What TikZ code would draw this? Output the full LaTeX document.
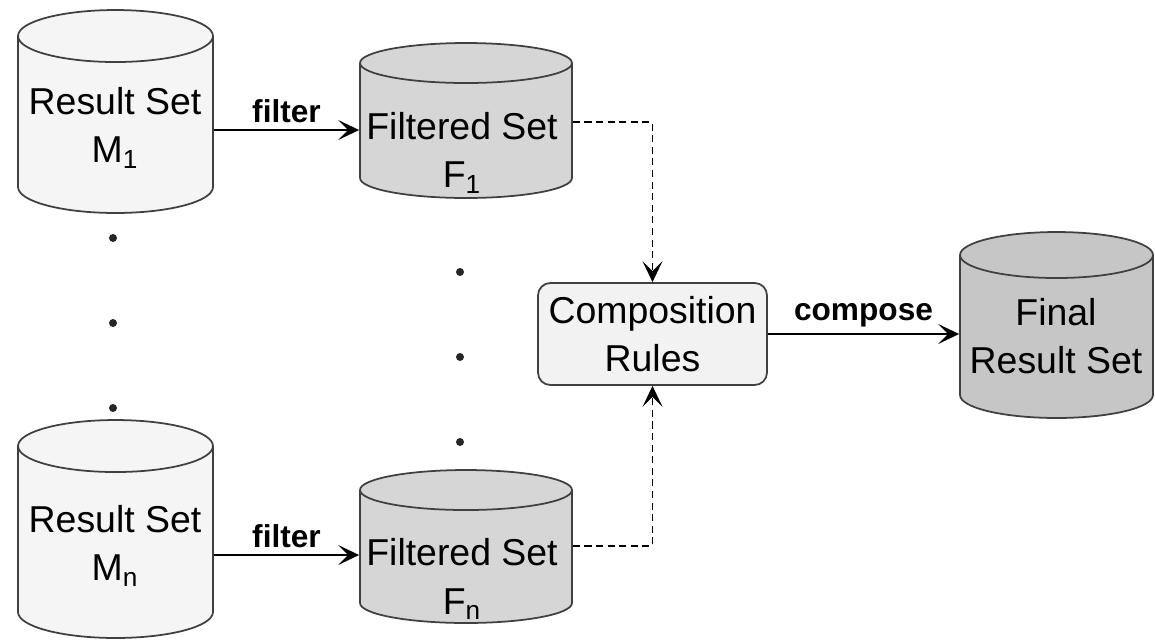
\documentclass[tikz,border=0pt]{standalone}
\usepackage{fontspec}
\setmainfont{Liberation Sans}
\usetikzlibrary{positioning, arrows.meta, shapes.geometric}

\begin{document}
\begin{tikzpicture}[
    x=0.02cm, y=-0.02cm,
    every node/.style={font=\fontsize{21.3}{27.5}\selectfont, align=center},
    dbase/.style={cylinder, shape border rotate=90, anchor=shape center, draw=black!75,
                  line width=1pt, inner sep=0.2cm},
    result/.style={dbase, fill=gray!8, minimum width=3.9cm, aspect=2.6},
    filtered/.style={dbase, fill=gray!32, minimum width=4.24cm, aspect=2},
    final/.style={dbase, fill=gray!45, minimum width=3.86cm, minimum height=3.72cm, aspect=2.3},
    dbtext/.style={inner sep=0pt},
    rules/.style={rectangle, draw=black!75, line width=1pt, rounded corners=7pt, fill=gray!10,
                  minimum width=4.58cm, minimum height=2.04cm},
    dot/.style={circle, fill=black!85, inner sep=0pt, minimum size=0.16cm},
    flow/.style={-{Stealth[length=0.42cm, width=0.4cm, inset=0.2cm]}, line width=1.1pt},
    link/.style={-{Stealth[length=0.42cm, width=0.4cm, inset=0.2cm]}, line width=1.1pt,
                 dash pattern=on 4pt off 2.6pt},
    lbl/.style={font=\fontsize{18}{20}\selectfont\bfseries}
]
\useasboundingbox (0,0) rectangle (1155,640);

% Nodes
\node[result, minimum height=4.06cm] (m1) at (115.5,111.5) {};
\node[result, minimum height=4.36cm] (mn) at (115.5,529) {};
\node[filtered, minimum height=3.1cm] (f1) at (466,120.5) {};
\node[filtered, minimum height=3.06cm] (fn) at (466,546.5) {};
\node[rules] (comp) at (652.5,334) {Composition\\Rules};
\node[final] (res) at (1056.5,325) {};

% Texts on the cylinders
\node[dbtext] (m1txt) at (115,128) {Result Set\\M\textsubscript{1}};
\node[dbtext] (mntxt) at (115,546) {Result Set\\M\textsubscript{n}};
\node[dbtext] (f1txt) at (462,153) {Filtered Set\\F\textsubscript{1}};
\node[dbtext] (fntxt) at (462,579) {Filtered Set\\F\textsubscript{n}};
\node[dbtext] (restxt) at (1056,336) {Final\\Result Set};

% Dots
\foreach \i/\y in {1/238, 2/323, 3/408}
    \node[dot] (ldot\i) at (113,\y) {};
\foreach \i/\y in {1/272, 2/357, 3/442}
    \node[dot] (mdot\i) at (460,\y) {};

% Edges
\draw[flow] (m1.east |- 0,130) -- (f1.west |- 0,130) node[lbl, midway, above] {filter};
\draw[flow] (mn.east |- 0,555) -- (fn.west |- 0,555) node[lbl, midway, above] {filter};
\draw[link] (f1.east |- 0,122) -| (comp.north);
\draw[link] (fn.east |- 0,546) -| (comp.south);
\draw[flow] (comp.east) -- (comp.east -| res.west) node[lbl, midway, above] {compose};

\end{tikzpicture}
\end{document}
